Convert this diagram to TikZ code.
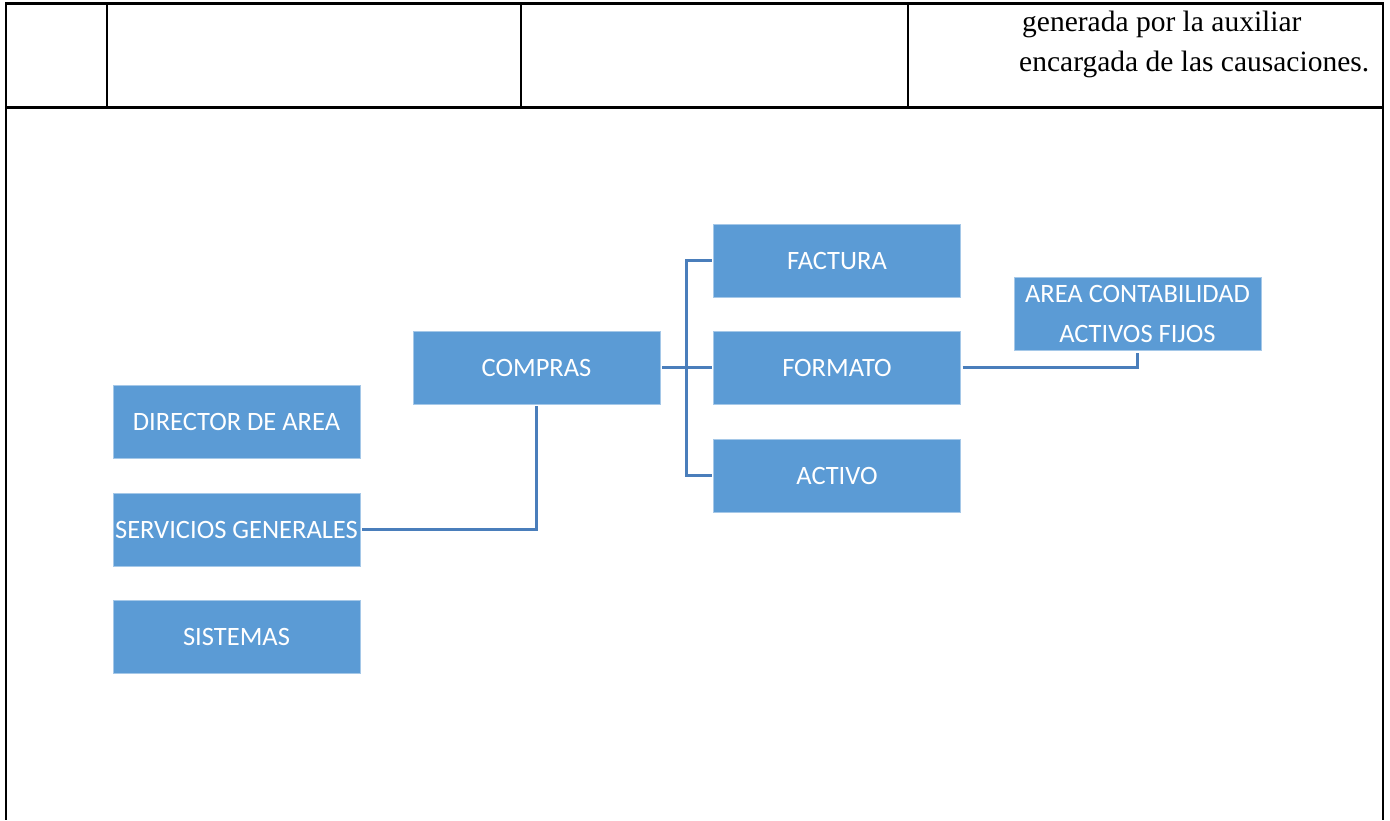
\documentclass[tikz,border=0pt]{standalone}
\usepackage{fontspec}
\setmainfont{Liberation Serif}
\newfontfamily\boxfont{Carlito}
\usetikzlibrary{calc}
\definecolor{boxblue}{HTML}{5B9BD5}
\definecolor{lineblue}{HTML}{4A7EBB}
\begin{document}
\begin{tikzpicture}[x=1pt,y=-1pt,node distance=107pt,
  box/.style={fill=boxblue, draw=boxblue!55!white, line width=0.8pt, minimum width=247pt, minimum height=73pt, inner sep=0pt, outer sep=2pt, text=white, align=center, font=\boxfont\fontsize{26.5}{40}\selectfont},
  link/.style={draw=lineblue, line width=3pt},
  rule/.style={draw=black, line width=2pt}]
\useasboundingbox (0,0) rectangle (1390,820);

% table frame
\draw[rule, line width=3pt] (5,3) -- (1384,3);
\draw[rule, line width=3pt] (5,107) -- (1384,107);
\draw[rule] (6,3) -- (6,820);
\draw[rule] (1383,3) -- (1383,820);
\draw[rule] (107,3) -- (107,107);
\draw[rule] (521,3) -- (521,107);
\draw[rule] (908,3) -- (908,107);
\node (note1) [anchor=base west, inner sep=0pt, font=\fontsize{29.5}{40}\selectfont] at (1022,31) {generada por la auxiliar};
\node (note2) [anchor=base west, inner sep=0pt, font=\fontsize{29.5}{40}\selectfont] at (1019,71) {encargada de las causaciones.};

% boxes
\node (compras) [box] at (536.5,367.5) {COMPRAS};
\node (formato) [box, right of=compras, node distance=300.5pt] {FORMATO};
\node (factura) [box, above of=formato] {FACTURA};
\node (activo) [box, below of=formato, node distance=108pt] {ACTIVO};
\node (area) [box, right of=formato, node distance=300.5pt, yshift=53.5pt] {AREA CONTABILIDAD\\ACTIVOS FIJOS};
\node (director) [box] at (236.5,421.5) {DIRECTOR DE AREA};
\node (servicios) [box, below of=director, node distance=108pt] {SERVICIOS GENERALES};
\node (sistemas) [box, below of=servicios] {SISTEMAS};

% connectors
\coordinate (fork) at ($(compras.east)!0.5!(formato.west)$);
\draw[link] (compras.east) -- (formato.west);
\draw[link] (factura.west) -| (fork) |- (activo.west);
\draw[link] (formato.east) -| (area.south);
\draw[link] (servicios.east) -| (compras.south);
\end{tikzpicture}
\end{document}
